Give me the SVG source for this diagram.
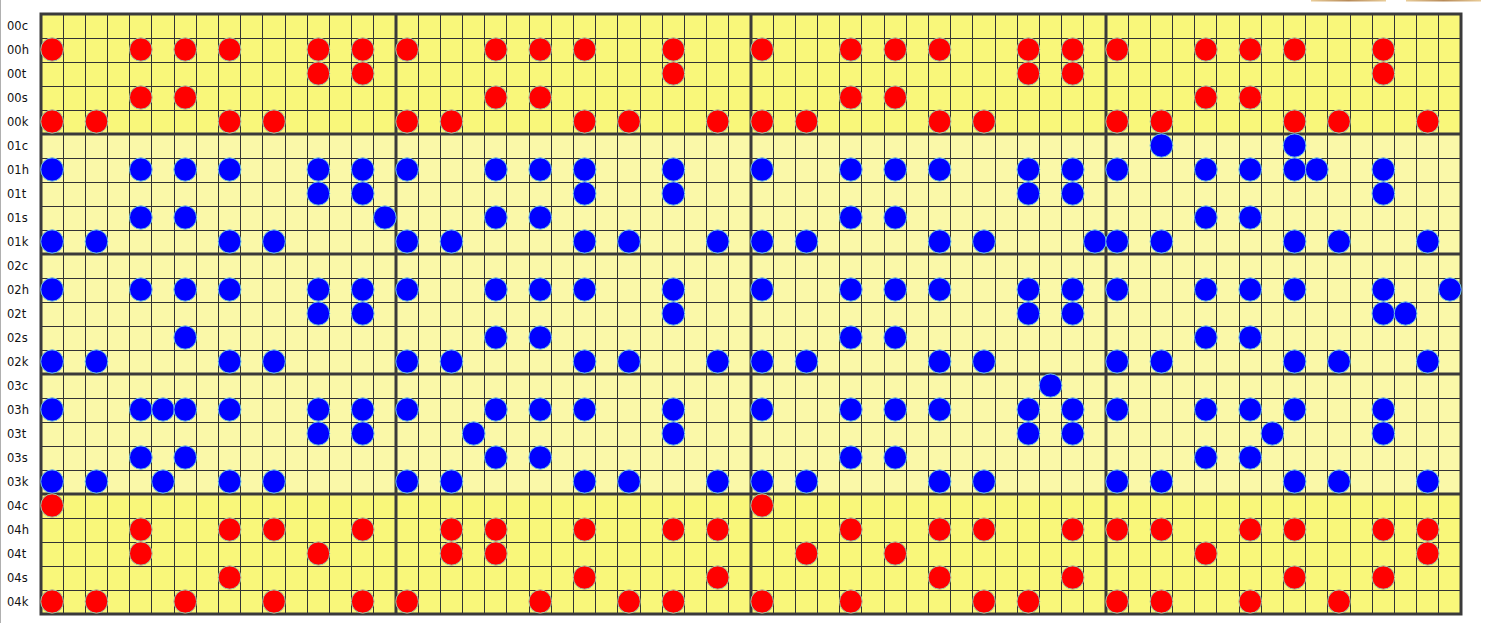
<svg xmlns="http://www.w3.org/2000/svg" xmlns:xlink="http://www.w3.org/1999/xlink" width="1500" height="623" viewBox="0 0 1500 623">
<style>
.lbl{font-family:"DejaVu Sans",sans-serif;font-size:11.5px;fill:#111}
.thin{stroke:#333;stroke-width:1;fill:none}
.thick{stroke:#3a3a3a;stroke-width:3;fill:none}
.red{fill:#f00;stroke:#9cc8a8;stroke-width:1}
.blue{fill:#00f;stroke:#6cc0e0;stroke-width:1}
</style>
<defs>
<ellipse id="d" cx="0.5" cy="0.5" rx="0.5115" ry="0.4854" vector-effect="non-scaling-stroke"/>
<linearGradient id="wood" x1="0" x2="1" y1="0" y2="0">
<stop offset="0" stop-color="#e9cc98"/>
<stop offset="0.5" stop-color="#b78a58"/>
<stop offset="1" stop-color="#e9cc98"/>
</linearGradient>
</defs>
<rect width="1500" height="623" fill="#fff"/>
<rect x="0" y="0" width="1" height="623" fill="#b0b0b0"/>
<rect x="1311" y="0" width="75" height="1.5" fill="url(#wood)"/>
<rect x="1406" y="0" width="75" height="1.5" fill="url(#wood)"/>
<g id="labels" class="lbl">
<text x="7" y="30">00c</text><text x="7" y="54">00h</text><text x="7" y="78">00t</text><text x="7" y="102">00s</text><text x="7" y="126">00k</text>
<text x="7" y="150">01c</text><text x="7" y="174">01h</text><text x="7" y="198">01t</text><text x="7" y="222">01s</text><text x="7" y="246">01k</text>
<text x="7" y="270">02c</text><text x="7" y="294">02h</text><text x="7" y="318">02t</text><text x="7" y="342">02s</text><text x="7" y="366">02k</text>
<text x="7" y="390">03c</text><text x="7" y="414">03h</text><text x="7" y="438">03t</text><text x="7" y="462">03s</text><text x="7" y="486">03k</text>
<text x="7" y="510">04c</text><text x="7" y="534">04h</text><text x="7" y="558">04t</text><text x="7" y="582">04s</text><text x="7" y="606">04k</text>
</g>
<g id="background">
<rect x="41" y="14" width="1420" height="120" fill="#f9f77a"/>
<rect x="41" y="134" width="1420" height="360" fill="#faf8a8"/>
<rect x="41" y="494" width="1420" height="120" fill="#f9f77a"/>
</g>
<g id="grid">
<path class="thin" d="M63.5 14V614M85.5 14V614M107.5 14V614M129.5 14V614M151.5 14V614M174.5 14V614M196.5 14V614M218.5 14V614M240.5 14V614M262.5 14V614M285.5 14V614M307.5 14V614M329.5 14V614M351.5 14V614M373.5 14V614M418.5 14V614M440.5 14V614M462.5 14V614M484.5 14V614M506.5 14V614M529.5 14V614M551.5 14V614M573.5 14V614M595.5 14V614M617.5 14V614M640.5 14V614M662.5 14V614M684.5 14V614M706.5 14V614M728.5 14V614M773.5 14V614M795.5 14V614M817.5 14V614M839.5 14V614M861.5 14V614M884.5 14V614M906.5 14V614M928.5 14V614M950.5 14V614M972.5 14V614M995.5 14V614M1017.5 14V614M1039.5 14V614M1061.5 14V614M1083.5 14V614M1128.5 14V614M1150.5 14V614M1172.5 14V614M1194.5 14V614M1216.5 14V614M1239.5 14V614M1261.5 14V614M1283.5 14V614M1305.5 14V614M1327.5 14V614M1350.5 14V614M1372.5 14V614M1394.5 14V614M1416.5 14V614M1438.5 14V614"/>
<path class="thin" d="M41 38.5H1461M41 62.5H1461M41 86.5H1461M41 110.5H1461M41 158.5H1461M41 182.5H1461M41 206.5H1461M41 230.5H1461M41 278.5H1461M41 302.5H1461M41 326.5H1461M41 350.5H1461M41 398.5H1461M41 422.5H1461M41 446.5H1461M41 470.5H1461M41 518.5H1461M41 542.5H1461M41 566.5H1461M41 590.5H1461"/>
<path class="thick" d="M396 14V614M751 14V614M1106 14V614M41 134H1461M41 254H1461M41 374H1461M41 494H1461"/>
<rect class="thick" x="41" y="14" width="1420" height="600"/>
</g>
<g id="notes" transform="translate(41 13.5) scale(22.1875 24)">
<g id="row-00h" class="red" transform="translate(0 1)"><use xlink:href="#d" x="0"/><use xlink:href="#d" x="4"/><use xlink:href="#d" x="6"/><use xlink:href="#d" x="8"/><use xlink:href="#d" x="12"/><use xlink:href="#d" x="14"/><use xlink:href="#d" x="16"/><use xlink:href="#d" x="20"/><use xlink:href="#d" x="22"/><use xlink:href="#d" x="24"/><use xlink:href="#d" x="28"/><use xlink:href="#d" x="32"/><use xlink:href="#d" x="36"/><use xlink:href="#d" x="38"/><use xlink:href="#d" x="40"/><use xlink:href="#d" x="44"/><use xlink:href="#d" x="46"/><use xlink:href="#d" x="48"/><use xlink:href="#d" x="52"/><use xlink:href="#d" x="54"/><use xlink:href="#d" x="56"/><use xlink:href="#d" x="60"/></g>
<g id="row-00t" class="red" transform="translate(0 2)"><use xlink:href="#d" x="12"/><use xlink:href="#d" x="14"/><use xlink:href="#d" x="28"/><use xlink:href="#d" x="44"/><use xlink:href="#d" x="46"/><use xlink:href="#d" x="60"/></g>
<g id="row-00s" class="red" transform="translate(0 3)"><use xlink:href="#d" x="4"/><use xlink:href="#d" x="6"/><use xlink:href="#d" x="20"/><use xlink:href="#d" x="22"/><use xlink:href="#d" x="36"/><use xlink:href="#d" x="38"/><use xlink:href="#d" x="52"/><use xlink:href="#d" x="54"/></g>
<g id="row-00k" class="red" transform="translate(0 4)"><use xlink:href="#d" x="0"/><use xlink:href="#d" x="2"/><use xlink:href="#d" x="8"/><use xlink:href="#d" x="10"/><use xlink:href="#d" x="16"/><use xlink:href="#d" x="18"/><use xlink:href="#d" x="24"/><use xlink:href="#d" x="26"/><use xlink:href="#d" x="30"/><use xlink:href="#d" x="32"/><use xlink:href="#d" x="34"/><use xlink:href="#d" x="40"/><use xlink:href="#d" x="42"/><use xlink:href="#d" x="48"/><use xlink:href="#d" x="50"/><use xlink:href="#d" x="56"/><use xlink:href="#d" x="58"/><use xlink:href="#d" x="62"/></g>
<g id="row-01c" class="blue" transform="translate(0 5)"><use xlink:href="#d" x="50"/><use xlink:href="#d" x="56"/></g>
<g id="row-01h" class="blue" transform="translate(0 6)"><use xlink:href="#d" x="0"/><use xlink:href="#d" x="4"/><use xlink:href="#d" x="6"/><use xlink:href="#d" x="8"/><use xlink:href="#d" x="12"/><use xlink:href="#d" x="14"/><use xlink:href="#d" x="16"/><use xlink:href="#d" x="20"/><use xlink:href="#d" x="22"/><use xlink:href="#d" x="24"/><use xlink:href="#d" x="28"/><use xlink:href="#d" x="32"/><use xlink:href="#d" x="36"/><use xlink:href="#d" x="38"/><use xlink:href="#d" x="40"/><use xlink:href="#d" x="44"/><use xlink:href="#d" x="46"/><use xlink:href="#d" x="48"/><use xlink:href="#d" x="52"/><use xlink:href="#d" x="54"/><use xlink:href="#d" x="56"/><use xlink:href="#d" x="57"/><use xlink:href="#d" x="60"/></g>
<g id="row-01t" class="blue" transform="translate(0 7)"><use xlink:href="#d" x="12"/><use xlink:href="#d" x="14"/><use xlink:href="#d" x="24"/><use xlink:href="#d" x="28"/><use xlink:href="#d" x="44"/><use xlink:href="#d" x="46"/><use xlink:href="#d" x="60"/></g>
<g id="row-01s" class="blue" transform="translate(0 8)"><use xlink:href="#d" x="4"/><use xlink:href="#d" x="6"/><use xlink:href="#d" x="15"/><use xlink:href="#d" x="20"/><use xlink:href="#d" x="22"/><use xlink:href="#d" x="36"/><use xlink:href="#d" x="38"/><use xlink:href="#d" x="52"/><use xlink:href="#d" x="54"/></g>
<g id="row-01k" class="blue" transform="translate(0 9)"><use xlink:href="#d" x="0"/><use xlink:href="#d" x="2"/><use xlink:href="#d" x="8"/><use xlink:href="#d" x="10"/><use xlink:href="#d" x="16"/><use xlink:href="#d" x="18"/><use xlink:href="#d" x="24"/><use xlink:href="#d" x="26"/><use xlink:href="#d" x="30"/><use xlink:href="#d" x="32"/><use xlink:href="#d" x="34"/><use xlink:href="#d" x="40"/><use xlink:href="#d" x="42"/><use xlink:href="#d" x="47"/><use xlink:href="#d" x="48"/><use xlink:href="#d" x="50"/><use xlink:href="#d" x="56"/><use xlink:href="#d" x="58"/><use xlink:href="#d" x="62"/></g>
<g id="row-02h" class="blue" transform="translate(0 11)"><use xlink:href="#d" x="0"/><use xlink:href="#d" x="4"/><use xlink:href="#d" x="6"/><use xlink:href="#d" x="8"/><use xlink:href="#d" x="12"/><use xlink:href="#d" x="14"/><use xlink:href="#d" x="16"/><use xlink:href="#d" x="20"/><use xlink:href="#d" x="22"/><use xlink:href="#d" x="24"/><use xlink:href="#d" x="28"/><use xlink:href="#d" x="32"/><use xlink:href="#d" x="36"/><use xlink:href="#d" x="38"/><use xlink:href="#d" x="40"/><use xlink:href="#d" x="44"/><use xlink:href="#d" x="46"/><use xlink:href="#d" x="48"/><use xlink:href="#d" x="52"/><use xlink:href="#d" x="54"/><use xlink:href="#d" x="56"/><use xlink:href="#d" x="60"/><use xlink:href="#d" x="63"/></g>
<g id="row-02t" class="blue" transform="translate(0 12)"><use xlink:href="#d" x="12"/><use xlink:href="#d" x="14"/><use xlink:href="#d" x="28"/><use xlink:href="#d" x="44"/><use xlink:href="#d" x="46"/><use xlink:href="#d" x="60"/><use xlink:href="#d" x="61"/></g>
<g id="row-02s" class="blue" transform="translate(0 13)"><use xlink:href="#d" x="6"/><use xlink:href="#d" x="20"/><use xlink:href="#d" x="22"/><use xlink:href="#d" x="36"/><use xlink:href="#d" x="38"/><use xlink:href="#d" x="52"/><use xlink:href="#d" x="54"/></g>
<g id="row-02k" class="blue" transform="translate(0 14)"><use xlink:href="#d" x="0"/><use xlink:href="#d" x="2"/><use xlink:href="#d" x="8"/><use xlink:href="#d" x="10"/><use xlink:href="#d" x="16"/><use xlink:href="#d" x="18"/><use xlink:href="#d" x="24"/><use xlink:href="#d" x="26"/><use xlink:href="#d" x="30"/><use xlink:href="#d" x="32"/><use xlink:href="#d" x="34"/><use xlink:href="#d" x="40"/><use xlink:href="#d" x="42"/><use xlink:href="#d" x="48"/><use xlink:href="#d" x="50"/><use xlink:href="#d" x="56"/><use xlink:href="#d" x="58"/><use xlink:href="#d" x="62"/></g>
<g id="row-03c" class="blue" transform="translate(0 15)"><use xlink:href="#d" x="45"/></g>
<g id="row-03h" class="blue" transform="translate(0 16)"><use xlink:href="#d" x="0"/><use xlink:href="#d" x="4"/><use xlink:href="#d" x="5"/><use xlink:href="#d" x="6"/><use xlink:href="#d" x="8"/><use xlink:href="#d" x="12"/><use xlink:href="#d" x="14"/><use xlink:href="#d" x="16"/><use xlink:href="#d" x="20"/><use xlink:href="#d" x="22"/><use xlink:href="#d" x="24"/><use xlink:href="#d" x="28"/><use xlink:href="#d" x="32"/><use xlink:href="#d" x="36"/><use xlink:href="#d" x="38"/><use xlink:href="#d" x="40"/><use xlink:href="#d" x="44"/><use xlink:href="#d" x="46"/><use xlink:href="#d" x="48"/><use xlink:href="#d" x="52"/><use xlink:href="#d" x="54"/><use xlink:href="#d" x="56"/><use xlink:href="#d" x="60"/></g>
<g id="row-03t" class="blue" transform="translate(0 17)"><use xlink:href="#d" x="12"/><use xlink:href="#d" x="14"/><use xlink:href="#d" x="19"/><use xlink:href="#d" x="28"/><use xlink:href="#d" x="44"/><use xlink:href="#d" x="46"/><use xlink:href="#d" x="55"/><use xlink:href="#d" x="60"/></g>
<g id="row-03s" class="blue" transform="translate(0 18)"><use xlink:href="#d" x="4"/><use xlink:href="#d" x="6"/><use xlink:href="#d" x="20"/><use xlink:href="#d" x="22"/><use xlink:href="#d" x="36"/><use xlink:href="#d" x="38"/><use xlink:href="#d" x="52"/><use xlink:href="#d" x="54"/></g>
<g id="row-03k" class="blue" transform="translate(0 19)"><use xlink:href="#d" x="0"/><use xlink:href="#d" x="2"/><use xlink:href="#d" x="5"/><use xlink:href="#d" x="8"/><use xlink:href="#d" x="10"/><use xlink:href="#d" x="16"/><use xlink:href="#d" x="18"/><use xlink:href="#d" x="24"/><use xlink:href="#d" x="26"/><use xlink:href="#d" x="30"/><use xlink:href="#d" x="32"/><use xlink:href="#d" x="34"/><use xlink:href="#d" x="40"/><use xlink:href="#d" x="42"/><use xlink:href="#d" x="48"/><use xlink:href="#d" x="50"/><use xlink:href="#d" x="56"/><use xlink:href="#d" x="58"/><use xlink:href="#d" x="62"/></g>
<g id="row-04c" class="red" transform="translate(0 20)"><use xlink:href="#d" x="0"/><use xlink:href="#d" x="32"/></g>
<g id="row-04h" class="red" transform="translate(0 21)"><use xlink:href="#d" x="4"/><use xlink:href="#d" x="8"/><use xlink:href="#d" x="10"/><use xlink:href="#d" x="14"/><use xlink:href="#d" x="18"/><use xlink:href="#d" x="20"/><use xlink:href="#d" x="24"/><use xlink:href="#d" x="28"/><use xlink:href="#d" x="30"/><use xlink:href="#d" x="36"/><use xlink:href="#d" x="40"/><use xlink:href="#d" x="42"/><use xlink:href="#d" x="46"/><use xlink:href="#d" x="48"/><use xlink:href="#d" x="50"/><use xlink:href="#d" x="54"/><use xlink:href="#d" x="56"/><use xlink:href="#d" x="60"/><use xlink:href="#d" x="62"/></g>
<g id="row-04t" class="red" transform="translate(0 22)"><use xlink:href="#d" x="4"/><use xlink:href="#d" x="12"/><use xlink:href="#d" x="18"/><use xlink:href="#d" x="20"/><use xlink:href="#d" x="34"/><use xlink:href="#d" x="38"/><use xlink:href="#d" x="52"/><use xlink:href="#d" x="62"/></g>
<g id="row-04s" class="red" transform="translate(0 23)"><use xlink:href="#d" x="8"/><use xlink:href="#d" x="24"/><use xlink:href="#d" x="30"/><use xlink:href="#d" x="40"/><use xlink:href="#d" x="46"/><use xlink:href="#d" x="56"/><use xlink:href="#d" x="60"/></g>
<g id="row-04k" class="red" transform="translate(0 24)"><use xlink:href="#d" x="0"/><use xlink:href="#d" x="2"/><use xlink:href="#d" x="6"/><use xlink:href="#d" x="10"/><use xlink:href="#d" x="14"/><use xlink:href="#d" x="16"/><use xlink:href="#d" x="22"/><use xlink:href="#d" x="26"/><use xlink:href="#d" x="28"/><use xlink:href="#d" x="32"/><use xlink:href="#d" x="36"/><use xlink:href="#d" x="42"/><use xlink:href="#d" x="44"/><use xlink:href="#d" x="48"/><use xlink:href="#d" x="50"/><use xlink:href="#d" x="54"/><use xlink:href="#d" x="58"/></g>
</g>
</svg>
